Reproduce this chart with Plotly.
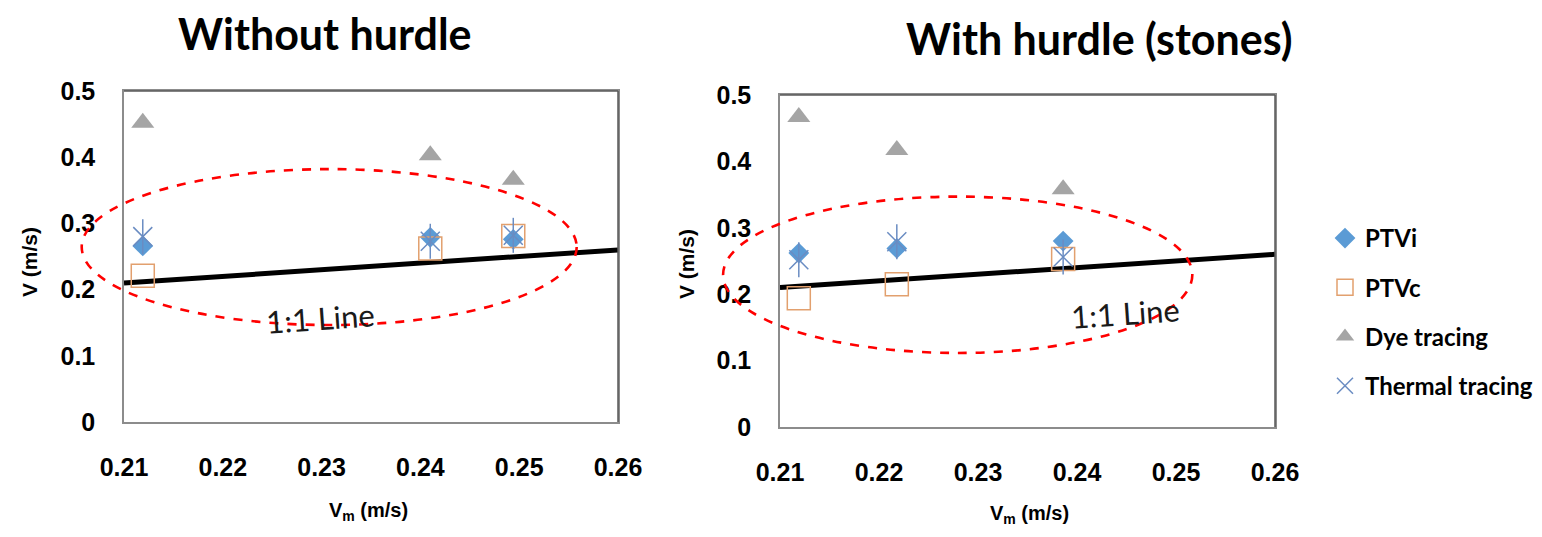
import plotly.graph_objects as go

# ---------------- data ----------------
series_names = ["PTVi", "PTVc", "Dye tracing", "Thermal tracing"]

# Without hurdle
vm_a = [0.2119, 0.2410, 0.2494]
ptvi_a = [0.266, 0.279, 0.276]
ptvc_a = [0.221, 0.262, 0.281]
dye_a = [0.452, 0.403, 0.366]
thermal_a = [0.280, 0.273, 0.282]

# With hurdle (stones)
vm_b = [0.2119, 0.2218, 0.2386]
ptvi_b = [0.262, 0.269, 0.280]
ptvc_b = [0.194, 0.215, 0.253]
dye_b = [0.467, 0.417, 0.358]
thermal_b = [0.252, 0.279, 0.256]

line_x = [0.21, 0.26]
line_y = [0.21, 0.26]

x_ticks = [0.21, 0.22, 0.23, 0.24, 0.25, 0.26]
x_ticktext = ["0.21", "0.22", "0.23", "0.24", "0.25", "0.26"]
y_ticks = [0, 0.1, 0.2, 0.3, 0.4, 0.5]
y_ticktext = ["0", "0.1", "0.2", "0.3", "0.4", "0.5"]

titles = ["Without hurdle", "With hurdle (stones)"]
line_label = "1:1 Line"
x_title = "V<sub>m</sub> (m/s)"
y_title = "V (m/s)"

# ---------------- styling ----------------
PAGE_M = 8                      # default body margin of the html page
W, H = 1542 - 2 * PAGE_M, 537 - 2 * PAGE_M
C_PTVI = "#5B9BD5"
C_PTVC = "#E2A06E"
C_DYE = "#A5A5A5"
C_TH = "#6A8CC2"
BOLD = "Liberation Sans"
CAL = "Lato"


def px_x(p):   # page pixel -> paper fraction
    return (p - PAGE_M) / W


def px_y(p):
    return (H - (p - PAGE_M)) / H


fig = go.Figure()


def add_series(vm, ptvi, ptvc, dye, thermal, xa, ya, show):
    fig.add_trace(go.Scatter(x=line_x, y=line_y, mode="lines", xaxis=xa, yaxis=ya,
                             line=dict(color="black", width=5), showlegend=False,
                             hoverinfo="skip"))
    fig.add_trace(go.Scatter(x=vm, y=ptvi, mode="markers", name=series_names[0],
                             xaxis=xa, yaxis=ya, legendgroup="g1", showlegend=show,
                             marker=dict(symbol="diamond", size=16, color=C_PTVI)))
    fig.add_trace(go.Scatter(x=vm, y=ptvc, mode="markers", name=series_names[1],
                             xaxis=xa, yaxis=ya, legendgroup="g2", showlegend=show,
                             marker=dict(symbol="square-open", size=23, color=C_PTVC,
                                         line=dict(width=1.5, color=C_PTVC))))
    fig.add_trace(go.Scatter(x=vm, y=dye, mode="markers", name=series_names[2],
                             xaxis=xa, yaxis=ya, legendgroup="g3", showlegend=show,
                             marker=dict(symbol="triangle-up", size=20, color=C_DYE)))
    fig.add_trace(go.Scatter(x=vm, y=thermal, mode="markers", name=series_names[3],
                             xaxis=xa, yaxis=ya, legendgroup="g4", showlegend=show,
                             marker=dict(symbol="x-thin-open", size=19, color=C_TH,
                                         line=dict(width=1.5, color=C_TH))))
    fig.add_trace(go.Scatter(x=vm, y=thermal, mode="markers", name=series_names[3],
                             xaxis=xa, yaxis=ya, legendgroup="g4", showlegend=False,
                             marker=dict(symbol="line-ns-open", size=25, color=C_TH,
                                         line=dict(width=1.5, color=C_TH))))


add_series(vm_a, ptvi_a, ptvc_a, dye_a, thermal_a, "x", "y", True)
add_series(vm_b, ptvi_b, ptvc_b, dye_b, thermal_b, "x2", "y2", False)


def dom_x(a, b):
    return [px_x(a), px_x(b)]


def dom_y(top, bottom):
    return [px_y(bottom), px_y(top)]


axis_common = dict(showgrid=False, zeroline=False, showline=True, mirror=True,
                   linecolor="#8C8C8C", linewidth=1.5, ticks="", automargin=False)
xcommon = dict(axis_common, range=[0.21, 0.26], tickvals=x_ticks, ticktext=x_ticktext,
               tickfont=dict(family=BOLD, size=25, color="black", weight="bold"),
               ticklabelstandoff=22)
ycommon = dict(axis_common, range=[0, 0.5], tickvals=y_ticks, ticktext=y_ticktext,
               tickfont=dict(family=BOLD, size=25, color="black", weight="bold"),
               ticklabelstandoff=22)

fig.update_layout(
    width=W, height=H,
    margin=dict(l=0, r=0, t=0, b=0, autoexpand=False),
    paper_bgcolor="white", plot_bgcolor="white",
    xaxis=dict(xcommon, domain=dom_x(124, 618), anchor="y"),
    yaxis=dict(ycommon, domain=dom_y(91, 422), anchor="x"),
    xaxis2=dict(xcommon, domain=dom_x(780, 1275), anchor="y2"),
    yaxis2=dict(ycommon, domain=dom_y(95, 427), anchor="x2"),
    showlegend=True,
    legend=dict(x=px_x(1325), y=px_y(216), xanchor="left", yanchor="top",
                font=dict(family=CAL, size=24, color="black", weight="bold"),
                tracegroupgap=15, itemwidth=30, bgcolor="rgba(0,0,0,0)",
                traceorder="grouped"),
)

# darker top/right frame edges
for xr, yr in [("x domain", "y domain"), ("x2 domain", "y2 domain")]:
    fig.add_shape(type="line", xref=xr, yref=yr, x0=0, x1=1, y0=1, y1=1,
                  line=dict(color="#5A5A5A", width=1.5))
    fig.add_shape(type="line", xref=xr, yref=yr, x0=1, x1=1, y0=0, y1=1,
                  line=dict(color="#5A5A5A", width=1.5))

# red dashed ellipses (domain-relative, not clipped)
fig.add_shape(type="circle", xref="x domain", yref="y domain",
              x0=-0.0856, x1=0.9164, y0=0.293, y1=0.764,
              line=dict(color="#FF0000", width=2.6, dash="dash"), layer="above")
fig.add_shape(type="circle", xref="x2 domain", yref="y2 domain",
              x0=-0.115, x1=0.833, y0=0.223, y1=0.694,
              line=dict(color="#FF0000", width=2.6, dash="dash"), layer="above")

# 1:1 line labels
fig.add_annotation(x=0.2299, y=0.157, xref="x", yref="y", text=line_label, showarrow=False,
                   xanchor="center", yanchor="middle",
                   textangle=-4, font=dict(family=CAL, size=31, color="#1a1a1a"))
fig.add_annotation(x=0.2449, y=0.172, xref="x2", yref="y2", text=line_label, showarrow=False,
                   xanchor="center", yanchor="middle",
                   textangle=-4, font=dict(family=CAL, size=31, color="#1a1a1a"))

# titles
for txt, xpx, ypx in [(titles[0], 325, 33), (titles[1], 1099, 39)]:
    fig.add_annotation(x=px_x(xpx), y=px_y(ypx), xref="paper", yref="paper", text=txt,
                       showarrow=False, xanchor="center", yanchor="middle",
                       font=dict(family=CAL, size=43, color="black", weight="bold"))

# axis titles
for xpx, ypx in [(368, 511), (1029, 514)]:
    fig.add_annotation(x=px_x(xpx), y=px_y(ypx), xref="paper", yref="paper", text=x_title,
                       showarrow=False, xanchor="center", yanchor="middle",
                       font=dict(family=BOLD, size=20, color="black", weight="bold"))
for xpx, ypx in [(29, 262), (686, 264)]:
    fig.add_annotation(x=px_x(xpx), y=px_y(ypx), xref="paper", yref="paper", text=y_title,
                       textangle=-90, showarrow=False, xanchor="center", yanchor="middle",
                       font=dict(family=BOLD, size=21, color="black", weight="bold"))

fig.write_html("out.html")
